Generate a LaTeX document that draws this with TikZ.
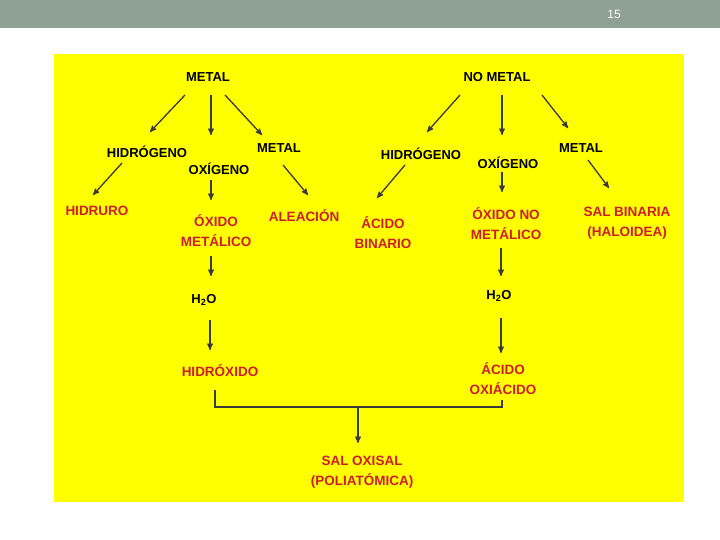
\documentclass[tikz,border=0pt]{standalone}
\usepackage{fontspec}
\setmainfont{Liberation Sans}
\usetikzlibrary{arrows}
\definecolor{slidegray}{HTML}{8FA094}
\definecolor{labelred}{HTML}{CC1F2A}
\definecolor{arrowgray}{HTML}{3A3A3A}
\definecolor{slideyellow}{HTML}{FFFF00}

\begin{document}
\begin{tikzpicture}[x=1pt,y=-1pt,->,>=stealth',
  word/.style={font=\bfseries\fontsize{13}{15}\selectfont,inner sep=0pt},
  red word/.style={word,text=labelred,align=center,font=\bfseries\fontsize{13.5}{20}\selectfont},
  link/.style={draw=arrowgray,line width=1.3pt}]

  \useasboundingbox (0,0) rectangle (720,540);
  \fill[slidegray] (0,0) rectangle (720,28);
  \node[text=white,font=\fontsize{12}{14}\selectfont] (page) at (614,14) {15};
  \fill[slideyellow] (54,54) rectangle (684,502);

  % metal side
  \node[word] (metalA) at (208,77) {METAL};
  \node[word] (hidA) at (147,152) {HIDRÓGENO};
  \node[word] (oxiA) at (219,169) {OXÍGENO};
  \node[word] (metalB) at (279,148) {METAL};
  \node[red word] (hidruro) at (97,211) {HIDRURO};
  \node[red word] (oxmet) at (216,231) {ÓXIDO\\METÁLICO};
  \node[red word] (aleac) at (304,216) {ALEACIÓN};
  \node[word] (h2oA) at (204,300) {H\textsubscript{2}O};
  \node[red word] (hidrox) at (220,371) {HIDRÓXIDO};

  % no metal side
  \node[word] (nometal) at (497,77) {NO METAL};
  \node[word] (hidB) at (421,154) {HIDRÓGENO};
  \node[word] (oxiB) at (508,163) {OXÍGENO};
  \node[word] (metalC) at (581,148) {METAL};
  \node[red word] (acbin) at (383,233) {ÁCIDO\\BINARIO};
  \node[red word] (oxnomet) at (506,224) {ÓXIDO NO\\METÁLICO};
  \node[red word] (salbin) at (627,223) {SAL BINARIA\\(HALOIDEA)};
  \node[word] (h2oB) at (499,296) {H\textsubscript{2}O};
  \node[red word] (acoxi) at (503,379) {ÁCIDO\\OXIÁCIDO};

  \node[red word] (salox) at (362,472) {SAL OXISAL\\(POLIATÓMICA)};

  \path[every edge/.append style={link}]
    ([shift={(-23,18)}]metalA.center) edge ([shift={(3,-20)}]hidA.center)
    ([shift={(3,18)}]metalA.center) edge ([shift={(-8,-34)}]oxiA.center)
    ([shift={(17,18)}]metalA.center) edge ([shift={(-17,-13)}]metalB.center)
    ([shift={(-25,11)}]hidA.center) edge ([shift={(-4,-16)}]hidruro.center)
    ([shift={(-8,11)}]oxiA.center) edge ([shift={(-5,-31)}]oxmet.center)
    ([shift={(4,17)}]metalB.center) edge ([shift={(4,-21)}]aleac.center)
    ([shift={(-5,25)}]oxmet.center) edge ([shift={(7,-24)}]h2oA.center)
    ([shift={(6,20)}]h2oA.center) edge ([shift={(-10,-21)}]hidrox.center)
    ([shift={(-37,18)}]nometal.center) edge ([shift={(6,-22)}]hidB.center)
    ([shift={(5,18)}]nometal.center) edge ([shift={(-6,-28)}]oxiB.center)
    ([shift={(45,18)}]nometal.center) edge ([shift={(-13,-20)}]metalC.center)
    ([shift={(-16,11)}]hidB.center) edge ([shift={(-6,-35)}]acbin.center)
    ([shift={(-6,9)}]oxiB.center) edge ([shift={(-4,-32)}]oxnomet.center)
    ([shift={(7,12)}]metalC.center) edge ([shift={(-18,-35)}]salbin.center)
    ([shift={(-5,24)}]oxnomet.center) edge ([shift={(2,-20)}]h2oB.center)
    ([shift={(2,22)}]h2oB.center) edge ([shift={(-2,-26)}]acoxi.center);

  % bracket joining both
  \draw[-,link] ([shift={(-5,19)}]hidrox.center) -- ++(0,17) -| ([shift={(-1,21)}]acoxi.center);
  \coordinate (joint) at (358,407);
  \path (joint) edge[link] ([shift={(-4,-29)}]salox.center);
\end{tikzpicture}
\end{document}
